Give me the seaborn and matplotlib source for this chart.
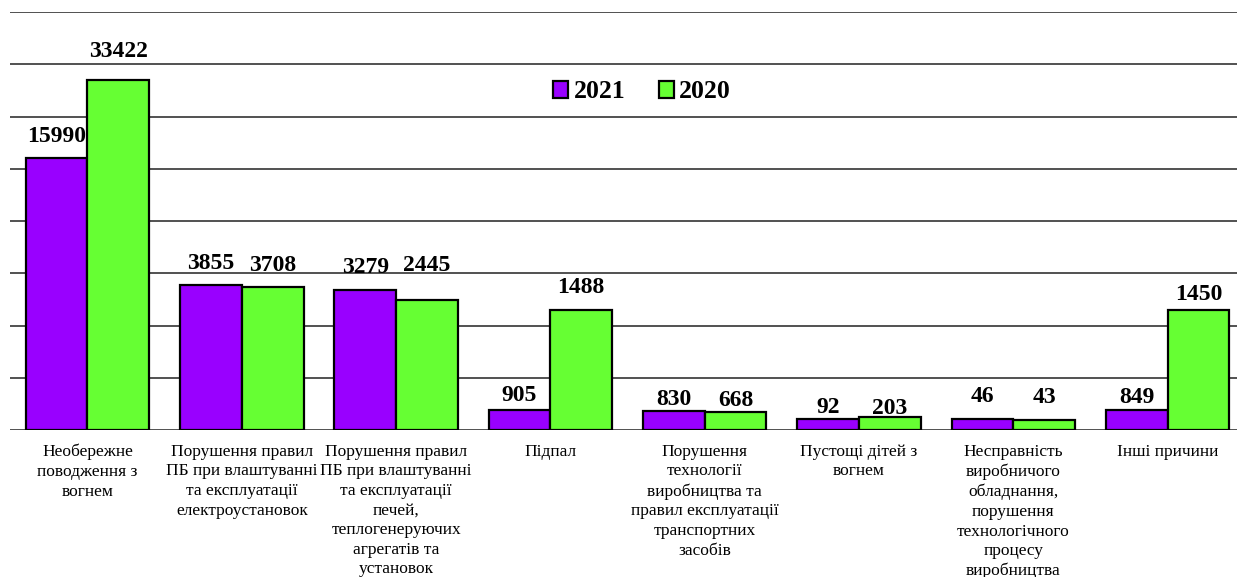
import matplotlib
matplotlib.use("Agg")
import matplotlib.pyplot as plt
from matplotlib.patches import Patch
import seaborn as sns
import pandas as pd

# categories (causes of fires)
causes = [
    "Необережне\nповодження з\nвогнем",
    "Порушення правил\nПБ при влаштуванні\nта експлуатації\nелектроустановок",
    "Порушення правил\nПБ при влаштуванні\nта експлуатації\nпечей,\nтеплогенеруючих\nагрегатів та\nустановок",
    "Підпал",
    "Порушення\nтехнології\nвиробництва та\nправил експлуатації\nтранспортних\nзасобів",
    "Пустощі дітей з\nвогнем",
    "Несправність\nвиробничого\nобладнання,\nпорушення\nтехнологічного\nпроцесу\nвиробництва",
    "Інші причини",
]
years = ["2021", "2020"]

# printed values
values_2021 = [15990, 3855, 3279, 905, 830, 92, 46, 849]
values_2020 = [33422, 3708, 2445, 1488, 668, 203, 43, 1450]

# bar heights as drawn in the source (gridline units, not proportional to values)
height_2021 = [5.20, 2.775, 2.67, 0.38, 0.37, 0.22, 0.22, 0.38]
height_2020 = [6.69, 2.74, 2.49, 2.30, 0.34, 0.255, 0.20, 2.29]

# gap in pixels between bar top and value label
gap_2021 = [16, 16, 17, 9, 6, 6, 17, 7]
gap_2020 = [23, 16, 29, 17, 6, 3, 17, 10]

colors = {"2021": "#9900FF", "2020": "#66FF33"}

df = pd.DataFrame({
    "cause": causes * 2,
    "year": ["2021"] * len(causes) + ["2020"] * len(causes),
    "height": height_2021 + height_2020,
})

W, H = 1237, 577
fig = plt.figure(figsize=(W / 100, H / 100), dpi=100)
# axes spans x from -0.5..7.5 -> px 10.35..1244.7, y 0..8 -> px 430..12 (from top)
ax = fig.add_axes([10.35 / W, (H - 430) / H, 1234.35 / W, 418 / H])

sns.barplot(data=df, x="cause", y="height", hue="year", order=causes,
            hue_order=years, palette=colors, width=0.8, edgecolor="black",
            linewidth=1.6, saturation=1, legend=False, ax=ax)

ax.set_ylim(0, 8)
ax.set_xlim(-0.5, 7.5)
ax.set_yticks(range(0, 9))
ax.set_yticklabels([])
ax.yaxis.grid(True, color="#333333", linewidth=1.2)
ax.set_axisbelow(True)
for s in ax.spines.values():
    s.set_visible(False)
ax.tick_params(axis="y", length=0)
ax.tick_params(axis="x", length=0, pad=10)
ax.set_xlabel("")
ax.set_ylabel("")
for lab in ax.get_xticklabels():
    lab.set_fontfamily("Liberation Serif")
    lab.set_fontsize(12.5)
    lab.set_linespacing(1.3)

# value labels
for i, cont in enumerate(ax.containers):
    vals = values_2021 if i == 0 else values_2020
    gaps = gap_2021 if i == 0 else gap_2020
    for bar, v, g in zip(cont, vals, gaps):
        ax.annotate(str(v), (bar.get_x() + bar.get_width() / 2, bar.get_height()),
                    xytext=(0, g), textcoords="offset pixels", ha="center",
                    va="baseline", fontsize=17, fontweight="bold",
                    family="Liberation Serif", annotation_clip=False)

handles = [Patch(facecolor=colors[y], edgecolor="black", linewidth=1.6, label=y)
           for y in years]
fig.legend(handles=handles, loc="center", bbox_to_anchor=(642 / W, 1 - 92 / H),
           ncol=2, frameon=False, handlelength=0.6, handleheight=0.6,
           handletextpad=0.2, columnspacing=1.3,
           prop={"family": "Liberation Serif", "weight": "bold", "size": 18.5})

fig.savefig("out.png", dpi=100)
